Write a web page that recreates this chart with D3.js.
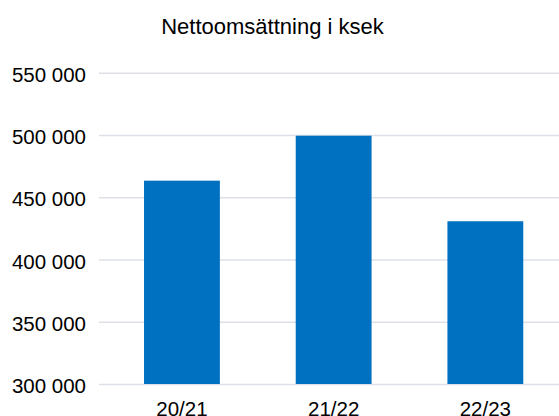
<!DOCTYPE html>
<html>
<head>
<meta charset="utf-8">
<script src="https://cdn.jsdelivr.net/npm/d3@7"></script>
<style>
  html, body { margin: 0; padding: 0; background: #fff; }
  svg { display: block; }
  text { font-family: "Liberation Sans", Arial, sans-serif; fill: #000; }
</style>
</head>
<body>
<svg id="chart" width="559" height="416"></svg>
<script>
const title = "Nettoomsättning i ksek";
const categories = ["20/21", "21/22", "22/23"];
const values = [463300, 499400, 430700];
const yTicks = [300000, 350000, 400000, 450000, 500000, 550000];

const W = 559, H = 416;
const svg = d3.select("#chart");

const y = d3.scaleLinear().domain([300000, 550000]).range([384, 72.7]);
const x = d3.scaleBand().domain(categories).range([106.1, 561.2])
  .paddingInner(0.5).paddingOuter(0.25);

const fmt = v => d3.format(",")(v).replace(/,/g, " ");

// gridlines + y labels via axis
const gridLeft = 99, gridRight = 559;
const yAxis = d3.axisLeft(y).tickValues(yTicks)
  .tickSize(-(gridRight - gridLeft)).tickPadding(12).tickFormat(fmt);
const gy = svg.append("g").attr("transform", `translate(${gridLeft},0)`).call(yAxis);
gy.select(".domain").remove();
gy.selectAll(".tick line").attr("stroke", "#DDE1E7").attr("stroke-width", 1.6);
gy.selectAll(".tick text")
  .attr("x", 86 - gridLeft)
  .attr("dy", null)
  .attr("dominant-baseline", null)
  .attr("y", 8.6)
  .style("font-size", "20.5px")
  .style("font-family", "'Liberation Sans', Arial, sans-serif")
  .attr("fill", "#000");

// bars
svg.append("g").selectAll("rect").data(categories).join("rect")
  .attr("x", d => x(d))
  .attr("width", x.bandwidth())
  .attr("y", (d, i) => y(values[i]))
  .attr("height", (d, i) => y(300000) - y(values[i]))
  .attr("fill", "#0070C0");

// x labels
const xAxis = d3.axisBottom(x).tickSize(0).tickPadding(0);
const gx = svg.append("g").attr("transform", `translate(0,0)`).call(xAxis);
gx.select(".domain").remove();
gx.selectAll(".tick text")
  .attr("y", 415.6)
  .attr("dy", null)
  .style("font-size", "20.5px")
  .style("font-family", "'Liberation Sans', Arial, sans-serif")
  .attr("fill", "#000");

// title
svg.append("text")
  .attr("x", 272.5).attr("y", 34.3)
  .attr("text-anchor", "middle")
  .style("font-size", "22px")
  .text(title);
</script>
</body>
</html>
